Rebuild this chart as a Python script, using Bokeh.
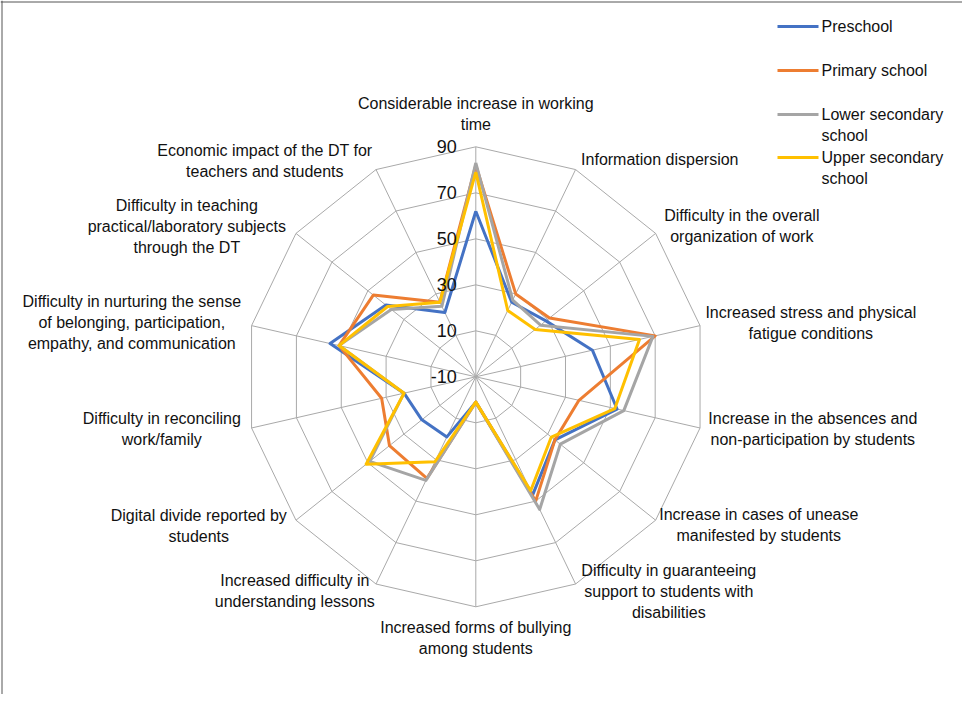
import math
from bokeh.plotting import figure
from bokeh.models import Range1d, Span
from bokeh.core.properties import value
from bokeh.embed import file_html
from bokeh.resources import INLINE

# ---------------- data ----------------
categories = [
    "Considerable increase in working\ntime",
    "Information dispersion",
    "Difficulty in the overall\norganization of work",
    "Increased stress and physical\nfatigue conditions",
    "Increase in the absences and\nnon-participation by students",
    "Increase in cases of unease\nmanifested by students",
    "Difficulty in guaranteeing\nsupport to students with\ndisabilities",
    "Increased forms of bullying\namong students",
    "Increased difficulty in\nunderstanding lessons",
    "Digital divide reported by\nstudents",
    "Difficulty in reconciling\nwork/family",
    "Difficulty in nurturing the sense\nof belonging, participation,\nempathy, and communication",
    "Difficulty in teaching\npractical/laboratory subjects\nthrough the DT",
    "Economic impact of the DT for\nteachers and students",
]
preschool = [62, 26, 29, 42, 53, 34, 47, 1, 19, 20, 22, 55, 40, 21]
primary_school = [82, 30, 31, 70, 36, 34, 50, 1, 39, 38, 32, 51, 47, 26]
lower_secondary = [83, 27, 26, 69, 56, 37, 54, 1, 40, 49, 22, 51, 37, 24]
upper_secondary = [79, 22, 23, 63, 52, 32, 45, 1, 31, 51, 22, 51, 39, 26]
series_names = ["Preschool", "Primary school", "Lower secondary\nschool", "Upper secondary\nschool"]
tick_values = [-10, 10, 30, 50, 70, 90]

# ---------------- styles / layout ----------------
series_values = [preschool, primary_school, lower_secondary, upper_secondary]
series_colors = ["#4472C4", "#ED7D31", "#A5A5A5", "#FFC000"]
FONT = "Liberation Sans"
TEXT_COLOR = "#111111"
GRID_COLOR = "#a9a9a9"

W, H = 962, 694
S = 2.3                 # pixels per value unit
CX, CY = 475.3, 376.3   # chart centre inside the figure (px from top-left)
R0 = tick_values[0]
N = len(categories)

# label block centres, px offset from chart centre
label_offsets = [
    (0, -263), (184, -217), (266, -151), (335, -54), (337, 52), (283, 148),
    (193, 215), (0, 261), (-181, 214), (-277, 149), (-314, 52), (-344, -54),
    (-289, -150), (-211, -216),
]
LINE_SPACING = 21


def px_to_data(px, py):
    return (px - CX) / S, (CY - py) / S


def polar(val, k):
    r = val - R0
    a = 2 * math.pi * k / N
    return r * math.sin(a), r * math.cos(a)


p = figure(
    width=W, height=H, output_backend="svg", toolbar_location=None,
    x_range=Range1d(-CX / S, (W - CX) / S),
    y_range=Range1d(-(H - CY) / S, CY / S),
    min_border=0,
)
p.axis.visible = False
p.grid.visible = False
p.outline_line_color = None
p.background_fill_color = "white"
p.border_fill_color = "white"

# rings and spokes
ring_xs, ring_ys = [], []
for t in tick_values[1:]:
    pts = [polar(t, k) for k in range(N)] + [polar(t, 0)]
    ring_xs.append([q[0] for q in pts])
    ring_ys.append([q[1] for q in pts])
for k in range(N):
    x1, y1 = polar(tick_values[-1], k)
    ring_xs.append([0, x1])
    ring_ys.append([0, y1])
p.multi_line(ring_xs, ring_ys, line_color=GRID_COLOR, line_width=1)

# series
for vals, col in zip(series_values, series_colors):
    pts = [polar(v, k) for k, v in enumerate(vals)]
    pts.append(pts[0])
    p.line([q[0] for q in pts], [q[1] for q in pts], line_color=col,
           line_width=3, line_join="round")

# tick labels
p.text(x=[-19 / S] * len(tick_values), y=[t - R0 for t in tick_values],
       text=[str(t) for t in tick_values], text_align="right",
       text_baseline="middle", text_font=value(FONT), text_font_size="18px",
       text_color=TEXT_COLOR)

# category labels (each line centred)
lx, ly, lt = [], [], []
for cat, (dx, dy) in zip(categories, label_offsets):
    lines = cat.split("\n")
    n = len(lines)
    for i, line in enumerate(lines):
        yy = dy + (i - (n - 1) / 2) * LINE_SPACING
        lx.append(dx / S)
        ly.append(-yy / S)
        lt.append(line)
p.text(x=lx, y=ly, text=lt, text_align="center", text_baseline="middle",
       text_font=value(FONT), text_font_size="16px", text_color=TEXT_COLOR)

# legend (drawn manually to allow two-line labels)
leg_y = [26, 70, 114, 157]
for name, col, yy in zip(series_names, series_colors, leg_y):
    x0, y0 = px_to_data(777, yy)
    x1, _ = px_to_data(818, yy)
    p.line([x0, x1], [y0, y0], line_color=col, line_width=3)
    for i, line in enumerate(name.split("\n")):
        tx, ty = px_to_data(821, yy + i * LINE_SPACING)
        p.text(x=[tx], y=[ty], text=[line], text_align="left",
               text_baseline="middle", text_font=value(FONT),
               text_font_size="16px", text_color=TEXT_COLOR)

# frame lines (top and left, as in the reference)
bx, by = px_to_data(1.5, 1.5)
p.add_layout(Span(location=bx, dimension="height", line_color="#555555", line_width=1))
p.add_layout(Span(location=by, dimension="width", line_color="#555555", line_width=1))

open("out.html", "w").write(file_html(p, INLINE))
